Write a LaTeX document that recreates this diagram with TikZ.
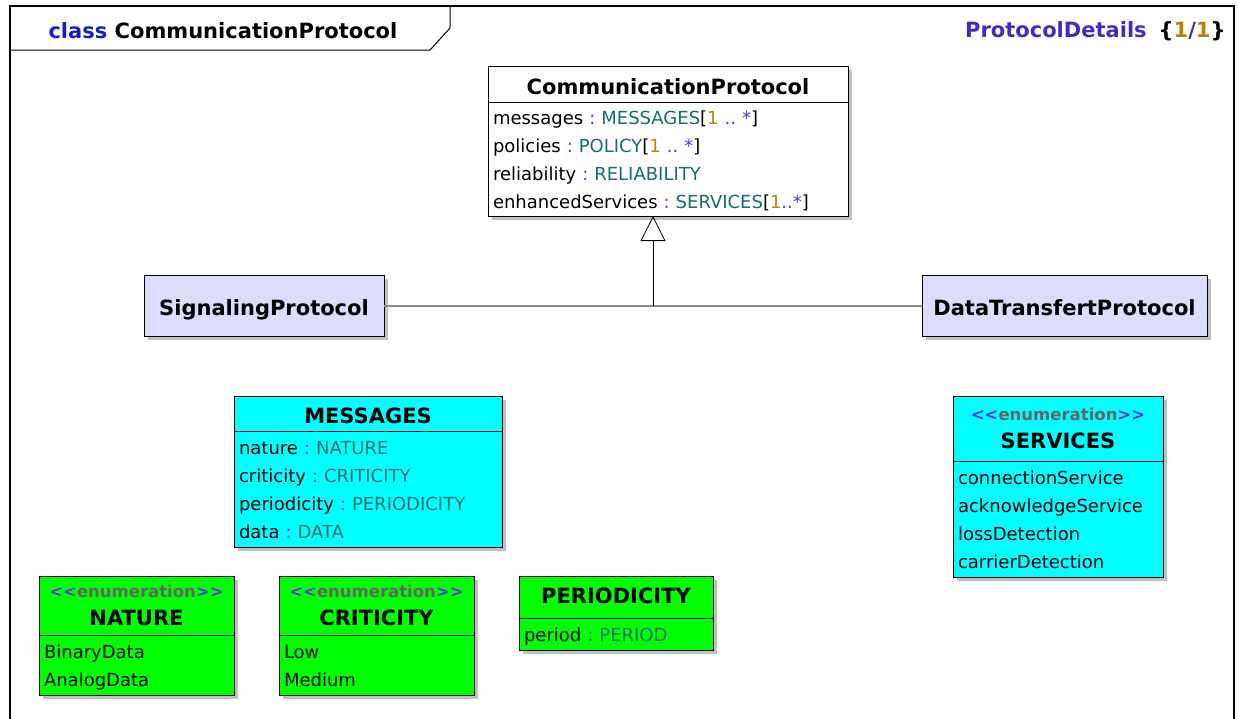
\documentclass[tikz,border=0pt]{standalone}
\usepackage{fontspec}
\setmainfont{DejaVu Sans}
\usetikzlibrary{positioning}
\usetikzlibrary{shadows}
\usetikzlibrary{arrows.meta}

\definecolor{lavender}{RGB}{220,220,252}
\definecolor{aqua}{RGB}{0,255,255}
\definecolor{lime}{RGB}{0,255,0}
\definecolor{typeteal}{RGB}{20,110,110}
\definecolor{sepblue}{RGB}{90,50,220}
\definecolor{multorange}{RGB}{190,130,0}
\definecolor{kwblue}{RGB}{20,30,200}
\definecolor{titlepurple}{RGB}{70,40,200}
\definecolor{stereogray}{RGB}{100,100,100}
\definecolor{linkgray}{RGB}{140,140,140}

\newcommand{\attr}[2]{\mbox{#1\hspace{6pt}\textcolor{sepblue}{:}\hspace{6pt}\textcolor{typeteal}{#2}}}
\newcommand{\many}[1]{\mbox{[\textcolor{multorange}{1}\textcolor{sepblue}{#1*}]}}
\newcommand{\stereo}{{\fontsize{16.5}{20}\selectfont\textcolor{sepblue}{<\kern0pt<}\textcolor{stereogray}{enumeration}\textcolor{sepblue}{>\kern0pt>}}}
\newcommand{\ls}{\rule[-7pt]{0pt}{28pt}}

\begin{document}
\begin{tikzpicture}[x=1pt,y=-1pt,
	box/.style={draw, line width=0.9pt, anchor=north west, inner sep=0pt, outer sep=0pt,
		drop shadow={shadow xshift=4pt,shadow yshift=-4pt,fill=black!25,opacity=1}},
	head/.style={box, font=\fontsize{21}{27.5}\selectfont\bfseries, align=center},
	classhead/.style={head, text height=20pt, text depth=0pt},
	body/.style={box, font=\fontsize{18}{28}\selectfont, align=left, inner xsep=5pt, inner ysep=2pt},
	]
	\useasboundingbox (0,0) rectangle (1238,718);

	% frame
	\draw[line width=1.4pt] (10,730) -- (10,6) -- (1234,6) -- (1234,730);
	\draw[line width=1pt] (10,50) -- (430,50) -- (450,28) -- (450,6);
	\node[anchor=west, font=\fontsize{21}{24}\selectfont\bfseries] (frametitle) at (45,31)
		{\textcolor{kwblue}{class} CommunicationProtocol};
	\node[anchor=east, font=\fontsize{21}{24}\selectfont\bfseries] (framediagram) at (1229,31)
		{\textcolor{titlepurple}{ProtocolDetails}\hspace{12pt}\{\textcolor{multorange}{1}\textcolor{titlepurple}{/}\textcolor{multorange}{1}\}};

	% classes
	\node[classhead, fill=white, minimum width=360pt, minimum height=36pt] (cp-head) at (488,66) {CommunicationProtocol};
	\node[body, fill=white, text width=350pt, inner ysep=1pt] (cp-attr) at (cp-head.south west)
		{\ls\attr{messages}{MESSAGES}\many{\ ..\ }\\
		 \ls\attr{policies}{POLICY}\many{\ ..\ }\\
		 \ls\attr{reliability}{RELIABILITY}\\
		 \ls\attr{enhancedServices}{SERVICES}\many{..}};

	\node[classhead, fill=lavender, minimum width=240pt, minimum height=61pt] (signaling) at (144,275) {SignalingProtocol};
	\node[classhead, fill=lavender, minimum width=285pt, minimum height=61pt] (datatransfert) at (922,275) {DataTransfertProtocol};

	\node[classhead, fill=aqua, minimum width=268pt, minimum height=35pt] (msg-head) at (234,396) {MESSAGES};
	\node[body, fill=aqua, text width=258pt] (msg-attr) at (msg-head.south west)
		{\ls\attr{nature}{NATURE}\\
		 \ls\attr{criticity}{CRITICITY}\\
		 \ls\attr{periodicity}{PERIODICITY}\\
		 \ls\attr{data}{DATA}};

	\node[head, fill=aqua, minimum width=210pt, minimum height=65pt] (srv-head) at (953,396) {\stereo\\SERVICES};
	\node[body, fill=aqua, text width=200pt] (srv-attr) at (srv-head.south west)
		{\ls connectionService\\ \ls acknowledgeService\\ \ls lossDetection\\ \ls carrierDetection};

	\node[head, fill=lime, minimum width=195pt, minimum height=59pt] (nat-head) at (39,576) {\stereo\\NATURE};
	\node[body, fill=lime, text width=185pt] (nat-attr) at (nat-head.south west)
		{\ls BinaryData\\ \ls AnalogData};

	\node[head, fill=lime, minimum width=195pt, minimum height=59pt] (crit-head) at (279,576) {\stereo\\CRITICITY};
	\node[body, fill=lime, text width=185pt] (crit-attr) at (crit-head.south west)
		{\ls Low\\ \ls Medium};

	\node[head, fill=lime, minimum width=194pt, minimum height=42pt, text height=13pt, text depth=0pt] (per-head) at (519,576) {PERIODICITY};
	\node[body, fill=lime, text width=184pt] (per-attr) at (per-head.south west)
		{\ls\attr{period}{PERIOD}};

	% generalization
	\coordinate (junc) at (653,306);
	\draw[linkgray, line width=1.6pt] (signaling.east |- junc) -- (datatransfert.west |- junc);
	\draw[line width=0.8pt, -{Triangle[open, width=25pt, length=25pt]}] (junc) -- (junc |- cp-attr.south);
\end{tikzpicture}
\end{document}
